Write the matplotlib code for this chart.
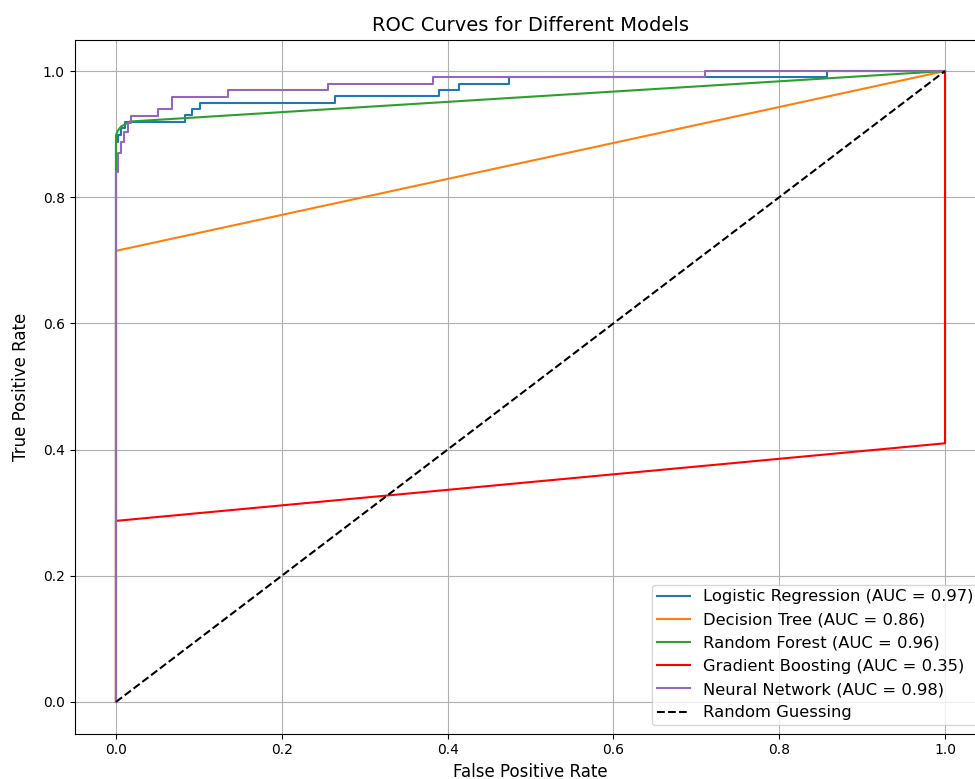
import matplotlib
matplotlib.use("Agg")
import matplotlib.pyplot as plt

# ---- data ----
lr_fpr = [0, 0, 0.002, 0.002, 0.006, 0.006, 0.011, 0.011, 0.083, 0.083, 0.092, 0.092,
          0.101, 0.101, 0.264, 0.264, 0.390, 0.390, 0.414, 0.414, 0.474, 0.474, 0.858, 0.858, 1.0]
lr_tpr = [0, 0.888, 0.888, 0.898, 0.898, 0.910, 0.910, 0.920, 0.920, 0.930, 0.930, 0.940,
          0.940, 0.950, 0.950, 0.960, 0.960, 0.970, 0.970, 0.980, 0.980, 0.990, 0.990, 1.0, 1.0]

dt_fpr = [0, 0, 1.0]
dt_tpr = [0, 0.715, 1.0]

rf_fpr = [0, 0, 0.002, 0.006, 0.017, 1.0]
rf_tpr = [0, 0.898, 0.905, 0.912, 0.920, 1.0]

gb_fpr = [0, 0, 1.0, 1.0]
gb_tpr = [0, 0.287, 0.410, 1.0]

nn_fpr = [0, 0, 0.002, 0.002, 0.006, 0.006, 0.010, 0.010, 0.014, 0.014, 0.018, 0.018,
          0.051, 0.051, 0.067, 0.067, 0.135, 0.135, 0.256, 0.256, 0.382, 0.382, 0.710, 0.710, 1.0]
nn_tpr = [0, 0.840, 0.840, 0.870, 0.870, 0.888, 0.888, 0.903, 0.903, 0.918, 0.918, 0.929,
          0.929, 0.940, 0.940, 0.959, 0.959, 0.970, 0.970, 0.980, 0.980, 0.990, 0.990, 1.0, 1.0]

model_names = ["Logistic Regression", "Decision Tree", "Random Forest",
               "Gradient Boosting", "Neural Network"]
auc_values = [0.97, 0.86, 0.96, 0.35, 0.98]
colors = ["#1f77b4", "#ff7f0e", "#2ca02c", "red", "#9467bd"]

curves = [(lr_fpr, lr_tpr), (dt_fpr, dt_tpr), (rf_fpr, rf_tpr),
          (gb_fpr, gb_tpr), (nn_fpr, nn_tpr)]

# ---- plot ----
fig = plt.figure(figsize=(9.75, 7.79), dpi=100)
W, H = 975, 779
ax = fig.add_axes([74.5 / W, 45.5 / H, 912 / W, 694 / H])

for (fpr, tpr), name, auc, c in zip(curves, model_names, auc_values, colors):
    ax.plot(fpr, tpr, color=c, lw=1.5, label=f"{name} (AUC = {auc:.2f})")

ax.plot([0, 1], [0, 1], "k--", lw=1.5, label="Random Guessing")

ax.set_title("ROC Curves for Different Models", fontsize=14)
ax.set_xlabel("False Positive Rate", fontsize=12)
ax.set_ylabel("True Positive Rate", fontsize=12, labelpad=9)
ax.tick_params(labelsize=10)
ax.grid(True)
ax.legend(loc="lower right", fontsize=11.8, labelspacing=0.5, borderpad=0.3)

fig.savefig("out.png", dpi=100)
